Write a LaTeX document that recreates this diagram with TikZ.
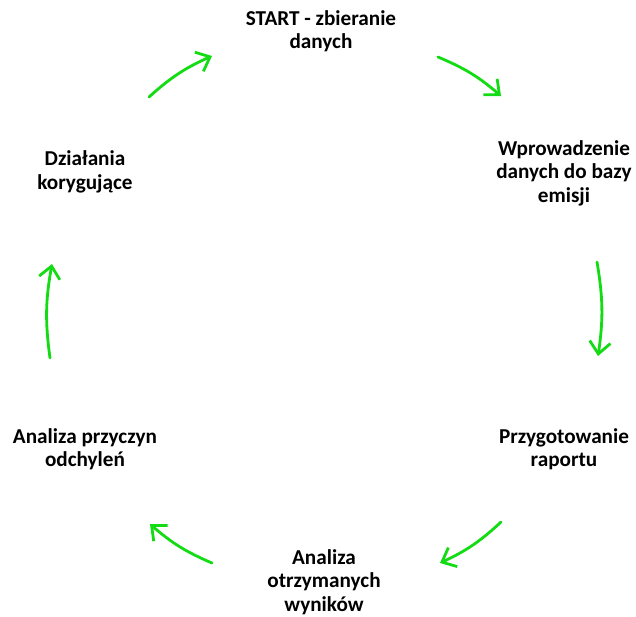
\documentclass[tikz,border=0pt]{standalone}
\usepackage{fontspec}
\setmainfont{Carlito}
\usepackage{tikz}
\usetikzlibrary{arrows.meta}
\definecolor{cyclegreen}{RGB}{20,220,20}

\begin{document}
\begin{tikzpicture}[x=1pt, y=-1pt,
		step label/.style={align=center, font=\fontsize{21.2}{23.5}\selectfont\bfseries},
		cycle arrow/.style={draw=cyclegreen, line width=2.8pt, line cap=round,
			-{Straight Barb[length=12pt, width=21pt, line width=2.8pt]}, bend left=9}]
			\useasboundingbox (0, 0) rectangle (636, 616);
			
			\node[step label] (Start) at (321, 31) {START - zbieranie\\danych};
			\node[step label] (Baza) at (564, 173) {Wprowadzenie\\danych do bazy\\emisji};
			\node[step label] (Raport) at (564, 449) {Przygotowanie\\raportu};
			\node[step label] (Wyniki) at (324, 582) {Analiza\\otrzymanych\\wyników};
			\node[step label] (Przyczyny) at (85, 449) {Analiza przyczyn\\odchyleń};
			\node[step label] (Dzialania) at (85, 172) {Działania\\korygujące};
			
			\coordinate (A1) at (149, 97);  \coordinate (B1) at (212, 56);
			\coordinate (A2) at (438, 57);  \coordinate (B2) at (501, 96);
			\coordinate (A3) at (597, 262); \coordinate (B3) at (598, 356);
			\coordinate (A4) at (501, 522); \coordinate (B4) at (440, 563);
			\coordinate (A5) at (212, 563); \coordinate (B5) at (150, 524);
			\coordinate (A6) at (50, 358);  \coordinate (B6) at (52, 264);
			
			\draw[cycle arrow] (A1) to (B1);
			\draw[cycle arrow] (A2) to (B2);
			\draw[cycle arrow] (A3) to (B3);
			\draw[cycle arrow] (A4) to (B4);
			\draw[cycle arrow] (A5) to (B5);
			\draw[cycle arrow] (A6) to (B6);
			
		\end{tikzpicture}
\end{document}
